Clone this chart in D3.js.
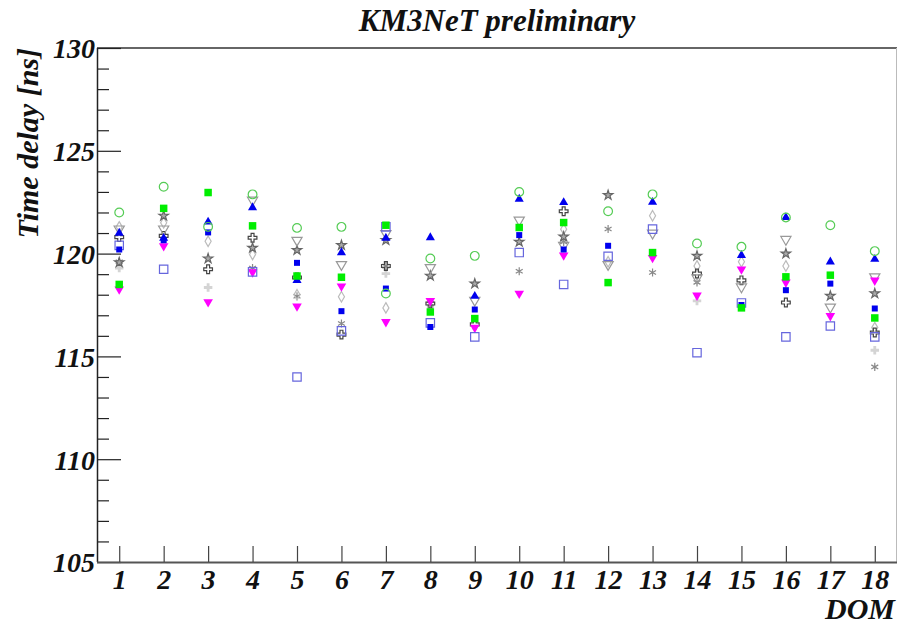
<!DOCTYPE html>
<html>
<head>
<meta charset="utf-8">
<script src="https://cdn.jsdelivr.net/npm/d3@7"></script>
<style>
  body { margin: 0; background: #fff; }
  text { font-family: "Liberation Serif", "DejaVu Serif", serif; font-weight: bold; font-style: italic; }
</style>
</head>
<body>
<div id="chart"></div>
<script>
// DOM numbers on x axis
var doms = [1, 2, 3, 4, 5, 6, 7, 8, 9, 10, 11, 12, 13, 14, 15, 16, 17, 18];
var yTicks = [105, 110, 115, 120, 125, 130];

// time delay per DOM, one array per run (null = no point)
var greenCircle = [122.0, 123.25, 121.3, 122.88, 121.25, 121.3, 118.06, 119.76, 119.89, 123.0, null, 122.06, 122.88, 120.49, 120.33, 121.76, 121.38, 120.12];
var greenSquare = [118.5, 122.2, 122.97, 121.35, 118.91, 118.85, 121.38, 117.16, 116.84, 121.27, 121.51, 118.59, 120.05, null, 117.36, 118.87, 118.95, 116.87];
var blueTriangle = [121.0, 120.75, 121.54, 122.24, 118.7, 120.05, 120.75, 120.78, 117.93, 122.65, 122.49, null, 122.5, null, 119.92, 121.76, 119.6, 119.73];
var blueSquare = [120.2, 120.65, 121.03, null, 119.55, 117.2, 118.3, 116.43, 117.28, 120.9, 120.2, 120.38, null, null, 117.5, 118.22, 118.54, 117.33];
var blueOpenSquare = [120.4, 119.24, null, 119.11, 114.0, 116.24, 121.3, 116.63, 115.95, 120.05, 118.5, 119.87, 121.19, 115.18, 117.6, 115.95, 116.48, 115.95];
var magentaTriangle = [118.27, 120.37, 117.65, 119.1, 117.44, 118.41, 116.68, 117.7, 116.4, 118.06, 119.92, null, 119.8, 117.97, 119.24, 118.6, 116.97, 118.7];
var grayOpenTriangle = [121.2, 121.2, null, 122.6, 120.65, 119.47, 120.98, 119.32, 117.73, 121.63, 120.4, 119.47, 121.0, 118.82, 118.38, 120.69, 117.4, 118.87];
var grayStar = [119.57, 121.84, 119.76, 120.28, 120.17, 120.41, 120.65, 118.92, 118.54, 120.57, 120.82, 122.84, null, 119.89, null, 120.0, 117.94, 118.06];
var darkCross = [120.8, 120.86, 119.24, 120.77, 118.84, 116.06, 119.4, 117.57, 116.56, null, 122.06, null, null, 119.03, 118.7, 117.62, null, 116.16];
var lightDiamond = [121.3, 121.5, 120.6, 119.96, 118.0, 117.9, 117.36, 117.4, null, null, 121.19, 119.6, 121.84, 119.4, 119.6, 119.4, null, 116.4];
var grayAsterisk = [119.6, null, null, 119.3, 117.93, 116.6, 119.39, 117.57, null, 119.14, 120.57, 121.2, 119.08, 118.6, null, null, null, 114.49];
var lightCross = [119.3, null, 118.35, null, null, null, 119.03, null, null, null, null, null, null, 117.7, null, null, null, 115.3];

var series = [
  { values: lightCross, sym: d3.symbolCross, size: 40, fill: '#d4d4d4', stroke: 'none' },
  { values: grayAsterisk, sym: d3.symbolAsterisk, size: 45, fill: 'none', stroke: '#888' },
  { values: lightDiamond, sym: d3.symbolDiamond, size: 32, fill: 'none', stroke: '#bbb' },
  { values: darkCross, sym: d3.symbolCross, size: 42, fill: 'none', stroke: '#444' },
  { values: grayStar, sym: d3.symbolStar, size: 28, fill: '#aaa', stroke: '#666' },
  { values: grayOpenTriangle, sym: d3.symbolTriangle, size: 45, fill: 'none', stroke: '#999', rot: 180 },
  { values: magentaTriangle, sym: d3.symbolTriangle, size: 40, fill: '#ff00ff', stroke: 'none', rot: 180 },
  { values: blueOpenSquare, sym: d3.symbolSquare, size: 70, fill: 'none', stroke: '#6666dd' },
  { values: blueSquare, sym: d3.symbolSquare, size: 36, fill: '#0000ee', stroke: 'none' },
  { values: blueTriangle, sym: d3.symbolTriangle, size: 36, fill: '#0000ee', stroke: 'none' },
  { values: greenSquare, sym: d3.symbolSquare, size: 56, fill: '#00ee00', stroke: 'none' },
  { values: greenCircle, sym: d3.symbolCircle, size: 60, fill: 'none', stroke: '#55cc55' }
];

var width = 898, height = 625;
var margin = { top: 48, left: 97, bottom: 63, right: 1 };

var svg = d3.select('#chart').append('svg')
  .attr('width', width)
  .attr('height', height);

var x = d3.scaleLinear().domain([0.5, 18.5]).range([margin.left, width - margin.right]);
var y = d3.scaleLinear().domain([105, 130]).range([height - margin.bottom, margin.top]);

// frame: top and right
svg.append('line')
  .attr('x1', margin.left).attr('x2', width - margin.right)
  .attr('y1', margin.top).attr('y2', margin.top)
  .style('stroke', '#666').style('stroke-width', 2);
svg.append('line')
  .attr('x1', width - margin.right - 0.5).attr('x2', width - margin.right - 0.5)
  .attr('y1', margin.top).attr('y2', height - margin.bottom)
  .style('stroke', '#bbb').style('stroke-width', 1);

// y axis, ticks point into the plot
var yMinor = d3.range(105, 131, 1).filter(function (d) { return d % 5 !== 0; });
svg.append('g')
  .attr('transform', 'translate(' + margin.left + ',0)')
  .call(d3.axisRight(y).tickValues(yMinor).tickSize(12).tickFormat(''))
  .call(function (g) { g.select('.domain').remove(); });
var yAxis = svg.append('g')
  .attr('transform', 'translate(' + margin.left + ',0)')
  .call(d3.axisRight(y).tickValues(yTicks).tickSize(24).tickFormat(d3.format('d')));
yAxis.select('.domain').attr('d', 'M0.5,' + y(130) + 'V' + y(105)).style('stroke', '#222').style('stroke-width', 1.5);
yAxis.selectAll('.tick text')
  .attr('x', -2)
  .attr('text-anchor', 'end')
  .attr('dy', '0.35em')
  .style('font-size', '28px')
  .style('fill', '#111');
svg.selectAll('.tick line').style('stroke', '#222').style('stroke-width', 1.2);

// x axis, ticks point up
var xAxis = svg.append('g')
  .attr('transform', 'translate(0,' + (height - margin.bottom) + ')')
  .call(d3.axisTop(x).tickValues(doms).tickSize(16).tickFormat(d3.format('d')));
xAxis.select('.domain').attr('d', 'M' + margin.left + ',0.5H' + (width - margin.right)).style('stroke', '#555').style('stroke-width', 2);
xAxis.selectAll('.tick line').style('stroke', '#444').style('stroke-width', 1.2);
xAxis.selectAll('.tick text')
  .attr('y', 27)
  .attr('dy', 0)
  .attr('text-anchor', 'middle')
  .style('font-size', '28px')
  .style('fill', '#111');

// markers
series.forEach(function (s) {
  var pts = doms.map(function (d, i) { return { dom: d, v: s.values[i] }; })
    .filter(function (p) { return p.v !== null; });
  svg.append('g').selectAll('path')
    .data(pts)
    .enter()
    .append('path')
    .attr('d', d3.symbol().type(s.sym).size(s.size))
    .attr('transform', function (p) {
      return 'translate(' + x(p.dom) + ',' + y(p.v) + ')' + (s.rot ? ' rotate(' + s.rot + ')' : '');
    })
    .style('fill', s.fill)
    .style('stroke', s.stroke)
    .style('stroke-width', 1.2);
});

// title and axis labels
svg.append('text')
  .text('KM3NeT preliminary')
  .attr('x', 497)
  .attr('y', 31)
  .attr('text-anchor', 'middle')
  .style('font-size', '31px')
  .style('fill', '#111');

svg.append('text')
  .text('Time delay [ns]')
  .attr('transform', 'translate(38,' + margin.top + ') rotate(-90)')
  .attr('text-anchor', 'end')
  .style('font-size', '30px')
  .style('fill', '#111');

svg.append('text')
  .text('DOM')
  .attr('x', width - 3)
  .attr('y', 619)
  .attr('text-anchor', 'end')
  .style('font-size', '30px')
  .style('fill', '#111');
</script>
</body>
</html>
